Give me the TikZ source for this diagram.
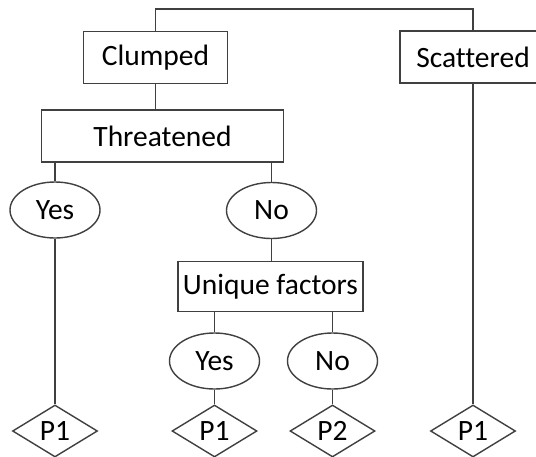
\documentclass[tikz,border=0pt]{standalone}
\usepackage{fontspec}
\setmainfont{Carlito}[Ligatures={NoCommon}]
\usetikzlibrary{shapes.geometric}
\begin{document}
\begin{tikzpicture}[x=1pt,y=-1pt,
  every node/.style={font=\fontsize{29.5}{32}\selectfont, text=black},
  ln/.style={draw=black!75, line width=1.4pt},
  box/.style={ln, rectangle, inner sep=0pt, minimum height=52pt},
  oval/.style={ln, ellipse, inner sep=0pt, minimum width=90pt, minimum height=56pt},
  dia/.style={ln, diamond, inner sep=0pt, minimum width=85pt, minimum height=52pt},
  conn/.style={draw=black!75, line width=1.4pt}]
\useasboundingbox (0,0) rectangle (536,456);
\fill[white] (0,0) rectangle (536,456);
\node[box, minimum width=144pt] (clumped) at (155.5,57.5) {Clumped};
\node[box, minimum width=146pt] (scattered) at (473,57) {Scattered};
\node[box, minimum width=242pt] (threat) at (162.5,136) {Threatened};
\node[oval] (yes1) at (55,210) {Yes};
\node[oval] (no1) at (271.5,210.5) {No};
\node[box, minimum width=185pt, minimum height=50pt] (uniq) at (270.5,286.5) {Unique factors};
\node[oval] (yes2) at (214.5,361) {Yes};
\node[oval] (no2) at (332.5,361) {No};
\node[dia] (d1) at (55,431) {P1};
\node[dia] (d2) at (214.5,431) {P1};
\node[dia] (d3) at (332.5,431) {P2};
\node[dia] (d4) at (473,431) {P1};
\coordinate (topc) at (300,9);
\draw[conn] (clumped.north) |- (topc) -| (scattered.north);
\draw[conn] (clumped.south) -- (clumped.south |- threat.north);
\draw[conn] (yes1.north |- threat.south) -- (yes1.north);
\draw[conn] (no1.north |- threat.south) -- (no1.north);
\draw[conn] (no1.south) -- (no1.south |- uniq.north);
\draw[conn] (yes2.north |- uniq.south) -- (yes2.north);
\draw[conn] (no2.north |- uniq.south) -- (no2.north);
\draw[conn] (yes1.south) -- (d1.north);
\draw[conn] (yes2.south) -- (d2.north);
\draw[conn] (no2.south) -- (d3.north);
\draw[conn] (scattered.south) -- (d4.north);
\end{tikzpicture}
\end{document}
